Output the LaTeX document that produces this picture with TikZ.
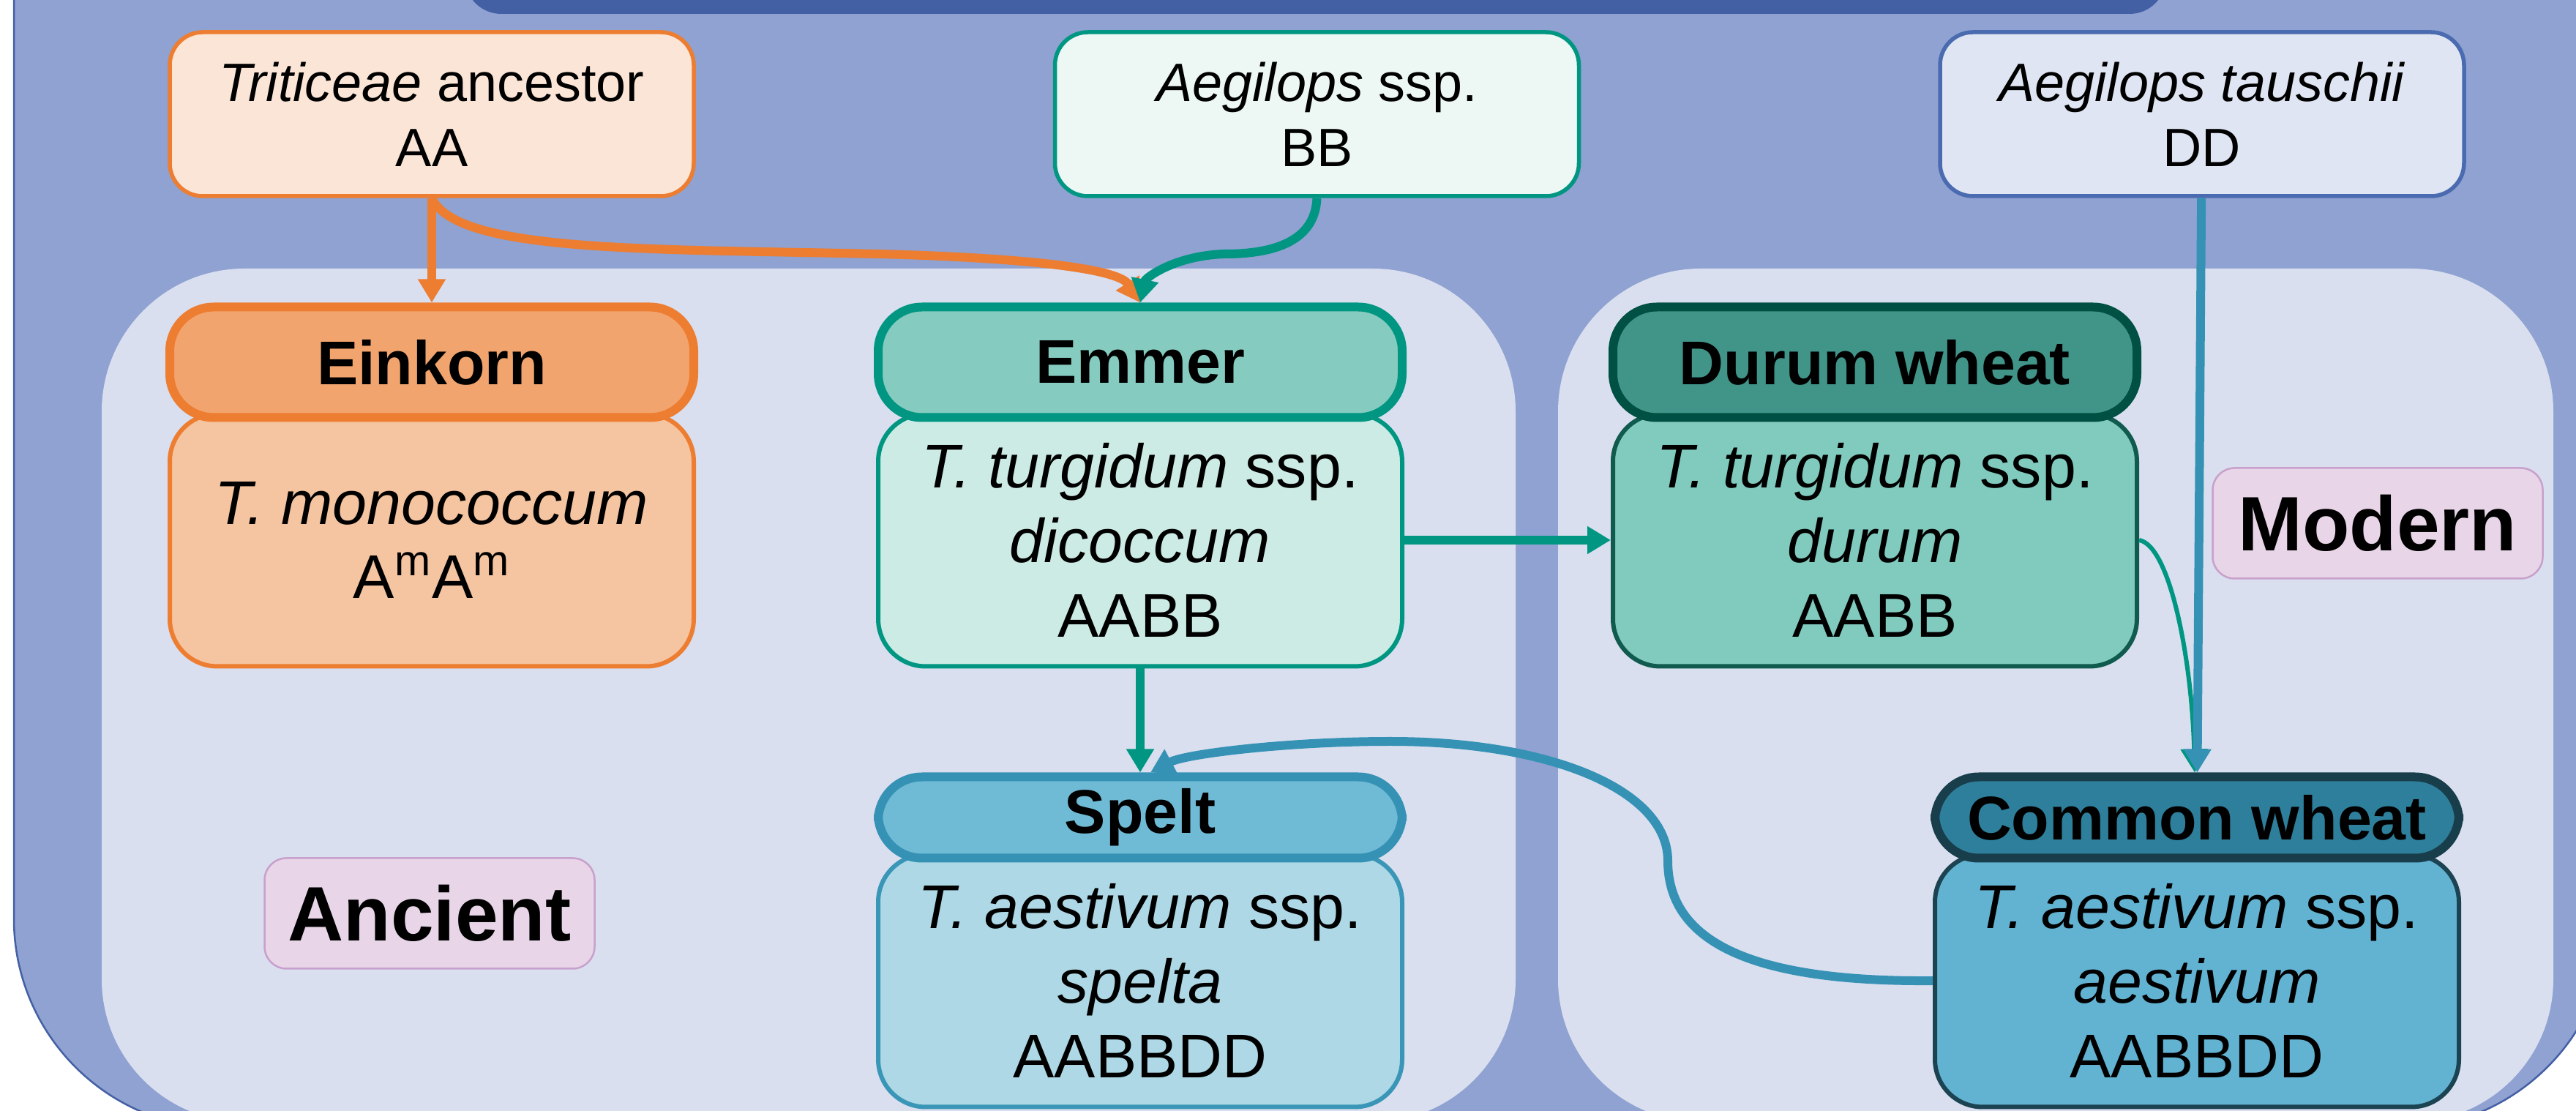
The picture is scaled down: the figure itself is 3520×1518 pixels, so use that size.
\documentclass[tikz,border=0pt]{standalone}
\usepackage{fontspec}
\setmainfont{Liberation Sans}
\usetikzlibrary{arrows.meta,positioning}
\definecolor{outerfill}{RGB}{143,162,209}
\definecolor{titleblue}{RGB}{68,96,165}
\definecolor{panelfill}{RGB}{217,223,239}
\definecolor{orangeline}{RGB}{237,125,49}
\definecolor{trifill}{RGB}{251,229,214}
\definecolor{einheadfill}{RGB}{242,164,110}
\definecolor{einbodyfill}{RGB}{245,196,160}
\definecolor{tealline}{RGB}{0,150,130}
\definecolor{aegfill}{RGB}{237,247,244}
\definecolor{emmheadfill}{RGB}{133,203,191}
\definecolor{emmbodyfill}{RGB}{205,235,229}
\definecolor{durheadfill}{RGB}{64,148,136}
\definecolor{durheadline}{RGB}{0,80,68}
\definecolor{durbodyfill}{RGB}{128,202,190}
\definecolor{durbodyline}{RGB}{16,90,78}
\definecolor{tauline}{RGB}{74,107,176}
\definecolor{taufill}{RGB}{223,229,242}
\definecolor{speltheadfill}{RGB}{111,186,213}
\definecolor{speltheadline}{RGB}{54,146,181}
\definecolor{speltbodyfill}{RGB}{174,216,230}
\definecolor{speltbodyline}{RGB}{58,150,183}
\definecolor{comheadfill}{RGB}{46,127,155}
\definecolor{comheadline}{RGB}{24,61,75}
\definecolor{combodyfill}{RGB}{98,178,210}
\definecolor{combodyline}{RGB}{27,67,82}
\definecolor{blueline}{RGB}{53,146,181}
\definecolor{erafill}{RGB}{232,214,232}
\definecolor{eraline}{RGB}{200,160,204}

\begin{document}
\begin{tikzpicture}[
  x=0.1mm, y=-0.1mm,
  topbox/.style={draw, line width=0.55mm, rounded corners=4.5mm, inner sep=0pt, align=center,
                 minimum width=71.6mm, minimum height=22.4mm, font=\fontsize{21}{25.3}\selectfont},
  hdr/.style={draw, line width=1.2mm, rounded corners=6mm, inner sep=0pt,
              minimum width=71.6mm, font=\fontsize{24}{29}\selectfont\bfseries},
  body/.style={draw, line width=0.6mm, rounded corners=6.5mm, inner sep=0pt, align=center,
               minimum width=71.6mm, minimum height=34.5mm, font=\fontsize{24}{29}\selectfont},
  era/.style={draw=eraline, fill=erafill, line width=0.25mm, rounded corners=3mm,
              minimum width=45.1mm, minimum height=15.1mm, font=\fontsize{30}{36}\selectfont\bfseries},
  arrow/.style={-{Triangle[length=3.2mm,width=3.6mm]}, line width=1.2mm}
]
\useasboundingbox (0,0) rectangle (3520,1518);
\clip (0,0) rectangle (3520,1518);
\fill[white] (0,0) rectangle (3520,1518);
\filldraw[fill=outerfill, draw=titleblue, line width=0.25mm, rounded corners=28.7mm]
  (19,-300) rectangle (3565,1542);
\fill[titleblue, rounded corners=5mm] (635,-100) rectangle (2960,19);
\fill[panelfill, rounded corners=19.5mm] (139,367) rectangle (2071,1533);
\fill[panelfill, rounded corners=19.5mm] (2129,367) rectangle (3489,1533);

\node[topbox, draw=orangeline, fill=trifill] (tri) at (590,156)
  {\textit{Triticeae} ancestor\\AA};
\node[topbox, draw=tealline, fill=aegfill, right=48.8mm of tri] (aeg)
  {\textit{Aegilops} ssp.\\BB};
\node[topbox, draw=tauline, fill=taufill, right=48.8mm of aeg] (tau)
  {\textit{Aegilops tauschii}\\DD};

\node[body, draw=orangeline, fill=einbodyfill] (einbody) at (590,738)
  {\textit{T. monococcum}\\A\textsuperscript{m}A\textsuperscript{m}};
\node[hdr, draw=orangeline, fill=einheadfill, minimum height=15.1mm, above=-1.4mm of einbody] (einhead)
  {Einkorn};
\node[body, draw=tealline, fill=emmbodyfill] (emmbody) at (1558,738)
  {\textit{T. turgidum} ssp.\\\textit{dicoccum}\\AABB};
\node[hdr, draw=tealline, fill=emmheadfill, minimum height=15.1mm, above=-1.4mm of emmbody] (emmhead)
  {Emmer};
\node[body, draw=durbodyline, fill=durbodyfill] (durbody) at (2562,738)
  {\textit{T. turgidum} ssp.\\\textit{durum}\\AABB};
\node[hdr, draw=durheadline, fill=durheadfill, minimum height=15.1mm, above=-1.4mm of durbody] (durhead)
  {Durum wheat};
\node[body, draw=speltbodyline, fill=speltbodyfill] (speltbody) at (1558,1340)
  {\textit{T. aestivum} ssp.\\\textit{spelta}\\AABBDD};
\node[hdr, draw=speltheadline, fill=speltheadfill, minimum height=11.1mm, above=-1.4mm of speltbody] (spelthead)
  {Spelt};
\node[body, draw=combodyline, fill=combodyfill] (combody) at (3002,1340)
  {\textit{T. aestivum} ssp.\\\textit{aestivum}\\AABBDD};
\node[hdr, draw=comheadline, fill=comheadfill, minimum height=11.1mm, above=-1.4mm of combody] (comhead)
  {Common wheat};

\node[era] (ancient) at (587,1248) {Ancient};
\node[era] (modern) at (3249,715) {Modern};

\draw[arrow, orangeline] (tri) -- (einhead);
\draw[arrow, orangeline] (tri.south) .. controls (625,345) and (880,340) .. (1200,347)
  .. controls (1430,353) and (1530,370) .. (emmhead.north);
\draw[arrow, tealline] (aeg.south) .. controls (1797,330) and (1740,347) .. (1674,347)
  .. controls (1605,349) and (1565,380) .. (emmhead.north);
\draw[arrow, tealline] (emmbody) -- (durbody);
\draw[arrow, tealline] (emmbody) -- (spelthead);
\draw[-{Triangle[length=3.2mm,width=3.6mm]}, line width=0.6mm, tealline]
  (durbody.east) .. controls (2965,745) and (2995,900) .. ([xshift=-0.3mm]comhead.north);
\draw[arrow, blueline] (tau) -- (comhead);
\draw[arrow, blueline] (combody.west) .. controls (2400,1342) and (2279,1290) .. (2279,1176)
  .. controls (2279,1080) and (2120,1013) .. (1900,1013)
  .. controls (1760,1013) and (1620,1030) .. ([xshift=1.4mm]spelthead.north);
\end{tikzpicture}
\end{document}
